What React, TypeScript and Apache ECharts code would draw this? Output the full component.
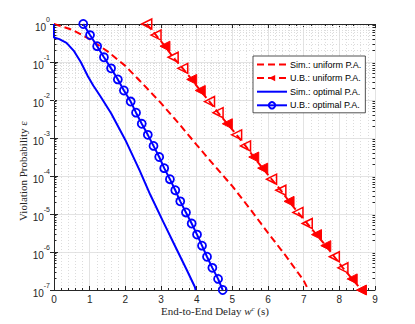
import React, { useEffect, useRef } from "react";
import * as echarts from "echarts";

// ---- data ----
const xTicks = [0, 1, 2, 3, 4, 5, 6, 7, 8, 9];
const yTickExponents = [0, -1, -2, -3, -4, -5, -6, -7];

// Sim.: uniform P.A. (red dashed)
const simUniformX = [0, 0.5, 1.0, 1.5, 2.0, 2.5, 3.0, 3.5, 4.0, 4.5, 5.0, 5.5, 6.0, 6.5, 7.0, 7.1];
const simUniformY = [1, 0.71, 0.4, 0.19, 0.079, 0.026, 8.3e-3, 2.4e-3, 6.6e-4, 1.86e-4, 5.4e-5, 1.35e-5, 3.2e-6, 7.9e-7, 1.78e-7, 1.15e-7];

// U.B. sampling levels of epsilon (shared by both U.B. curves)
const ubEps = [1, 0.511, 0.261, 0.133, 0.068, 0.0348, 0.0178, 9.09e-3, 4.64e-3, 2.37e-3, 1.21e-3, 6.19e-4, 3.16e-4, 1.61e-4, 8.25e-5, 4.22e-5, 2.15e-5, 1.1e-5, 5.62e-6, 2.87e-6, 1.47e-6, 7.5e-7, 3.83e-7, 1.96e-7, 1e-7];

// U.B.: uniform P.A. (red dashed with triangles)
const ubUniformX = [2.6, 2.86, 3.11, 3.34, 3.61, 3.86, 4.1, 4.36, 4.6, 4.86, 5.12, 5.37, 5.6, 5.85, 6.1, 6.36, 6.59, 6.84, 7.1, 7.36, 7.62, 7.86, 8.1, 8.36, 8.62];
const ubUniformFilled = [false, false, true, false, false, true, true, false, false, true, false, false, true, true, false, false, true, false, false, true, true, false, false, true, true];

// Sim.: optimal P.A. (blue solid)
const simOptimalX = [0, 0, 0.15, 0.35, 0.55, 0.75, 0.95, 1.1, 1.3, 1.6, 2.0, 2.4, 2.7, 3.06, 3.4, 3.72, 3.95, 3.97];
const simOptimalY = [1, 0.44, 0.4, 0.32, 0.2, 0.1, 0.042, 0.024, 0.0126, 4.5e-3, 8.9e-4, 1.4e-4, 3.2e-5, 6.3e-6, 1.4e-6, 3.4e-7, 1.2e-7, 1e-7];

// U.B.: optimal P.A. (blue with circles)
const ubOptimalX = [0.82, 1.01, 1.21, 1.4, 1.6, 1.79, 1.96, 2.15, 2.3, 2.46, 2.63, 2.79, 2.95, 3.09, 3.25, 3.4, 3.54, 3.7, 3.86, 4.01, 4.15, 4.29, 4.44, 4.6, 4.73];

const seriesNames = ["Sim.: uniform P.A.", "U.B.: uniform P.A.", "Sim.: optimal P.A.", "U.B.: optimal P.A."];

const RED = "#ff0000";
const BLUE = "#0000ff";
const AXIS = "#262626";
const CLEAR = "rgba(255,255,255,0)";

const minorYs: number[] = [];
for (let d = -7; d < 0; d++) {
  for (let m = 2; m <= 9; m++) minorYs.push(m * Math.pow(10, d));
}

const zip = (xs: number[], ys: number[]) => xs.map((x, i) => [x, ys[i]]);

export default function App() {
  const ref = useRef<HTMLDivElement>(null);
  useEffect(() => {
    if (!ref.current) return;
    const chart = echarts.init(ref.current, undefined, { renderer: "svg" });
    const sans = "Liberation Sans, Arial, sans-serif";
    const yLabelFmt = (v: number) => {
      const e = Math.round(Math.log10(v));
      return `{b|10}{e|${e}}`;
    };
    const xMin = xTicks[0];
    const xMax = xTicks[xTicks.length - 1];
    const tickFrac = 0.07; // minor tick length on the log axes, in x units
    const minorTickSegs: any[] = [];
    minorYs.forEach((v) => {
      minorTickSegs.push([{ coord: [xMin, v] }, { coord: [xMin + tickFrac, v] }]);
      minorTickSegs.push([{ coord: [xMax, v] }, { coord: [xMax - tickFrac, v] }]);
    });
    const option: any = {
      animation: false,
      backgroundColor: "#ffffff",
      grid: { left: 54, right: 40, top: 24, bottom: 34, containLabel: false },
      xAxis: [
        {
          type: "value",
          min: xMin,
          max: xMax,
          interval: 1,
          position: "bottom",
          axisLine: { show: true, lineStyle: { color: AXIS, width: 1 } },
          axisTick: { show: true, inside: true, length: 4, lineStyle: { color: AXIS } },
          minorTick: { show: true, splitNumber: 5, length: 2, lineStyle: { color: AXIS } },
          axisLabel: { color: AXIS, fontSize: 10, fontFamily: sans, margin: 4, lineHeight: 10 },
          splitLine: { show: true, lineStyle: { color: "#e3e3e3", width: 1 } },
          minorSplitLine: { show: true, lineStyle: { color: "#dcdcdc", width: 1, type: [1, 2] } },
        },
        {
          type: "value",
          min: xMin,
          max: xMax,
          interval: 1,
          position: "top",
          axisLine: { show: true, lineStyle: { color: AXIS, width: 1 } },
          axisTick: { show: true, inside: true, length: 4, lineStyle: { color: AXIS } },
          minorTick: { show: true, splitNumber: 5, length: 2, lineStyle: { color: AXIS } },
          axisLabel: { show: false },
          splitLine: { show: false },
        },
      ],
      yAxis: [
        {
          type: "log",
          logBase: 10,
          min: Math.pow(10, yTickExponents[yTickExponents.length - 1]),
          max: Math.pow(10, yTickExponents[0]),
          position: "left",
          axisLine: { show: true, lineStyle: { color: AXIS, width: 1 } },
          axisTick: { show: true, inside: true, length: 4, lineStyle: { color: AXIS } },
          axisLabel: {
            formatter: yLabelFmt,
            margin: 4,
            rich: {
              b: { fontSize: 10, fontFamily: sans, color: AXIS, lineHeight: 16, verticalAlign: "bottom" },
              e: { fontSize: 7, fontFamily: sans, color: AXIS, lineHeight: 8, verticalAlign: "top" },
            },
          },
          splitLine: { show: true, lineStyle: { color: "#e3e3e3", width: 1 } },
        },
        {
          type: "log",
          logBase: 10,
          min: Math.pow(10, yTickExponents[yTickExponents.length - 1]),
          max: Math.pow(10, yTickExponents[0]),
          position: "right",
          axisLine: { show: true, lineStyle: { color: AXIS, width: 1 } },
          axisTick: { show: true, inside: true, length: 4, lineStyle: { color: AXIS } },
          axisLabel: { show: false },
          splitLine: { show: false },
        },
      ],
      legend: {
        data: seriesNames,
        orient: "vertical",
        left: 253,
        top: 56,
        itemWidth: 30,
        itemHeight: 8,
        itemGap: 4.6,
        padding: [4, 4, 3, 3],
        backgroundColor: "#ffffff",
        borderColor: AXIS,
        borderWidth: 0.8,
        borderRadius: 0,
        textStyle: { fontSize: 9, fontFamily: sans, color: "#000", padding: [0, 0, 0, -2] },
      },
      graphic: [
        {
          type: "text",
          x: 23,
          y: 171,
          rotation: Math.PI / 2,
          style: {
            text: "Violation Probability ε",
            font: "11px Liberation Serif, serif",
            fill: AXIS,
            align: "center",
            verticalAlign: "middle",
          },
        },
        {
          type: "text",
          x: 215,
          y: 311,
          style: {
            text: "End-to-End Delay {i|w}{s|c} (s)",
            font: "11px Liberation Serif, serif",
            fill: AXIS,
            align: "center",
            verticalAlign: "middle",
            rich: {
              i: { font: "italic 11px Liberation Serif, serif", fill: AXIS },
              s: { font: "italic 7px Liberation Serif, serif", fill: AXIS, verticalAlign: "top", lineHeight: 8 },
            },
          },
        },
      ],
      series: [
        {
          name: "minor-grid",
          type: "line",
          data: [],
          silent: true,
          z: 1,
          markLine: {
            silent: true,
            symbol: "none",
            animation: false,
            z: 1,
            label: { show: false },
            lineStyle: { color: "#dcdcdc", width: 1, type: [1, 2] },
            data: minorYs.map((v) => ({ yAxis: v })),
          },
        },
        {
          name: "minor-ticks",
          type: "line",
          data: [],
          silent: true,
          z: 5,
          markLine: {
            silent: true,
            symbol: "none",
            animation: false,
            label: { show: false },
            lineStyle: { color: AXIS, width: 1, type: "solid" },
            data: minorTickSegs,
          },
        },
        {
          name: seriesNames[0],
          type: "line",
          data: zip(simUniformX, simUniformY),
          symbol: "none",
          showSymbol: false,
          lineStyle: { color: RED, width: 2, type: [7, 4] },
          itemStyle: { color: CLEAR, opacity: 0 },
          z: 3,
        },
        {
          name: seriesNames[1],
          type: "line",
          data: ubUniformX.map((x, i) => ({
            value: [x, ubEps[i]],
            itemStyle: ubUniformFilled[i]
              ? { color: RED, borderColor: RED, borderWidth: 1 }
              : { color: CLEAR, borderColor: RED, borderWidth: 1.5 },
          })),
          symbol: "triangle",
          symbolRotate: 90,
          symbolSize: 10,
          showSymbol: true,
          lineStyle: { color: RED, width: 2, type: [7, 4] },
          itemStyle: { color: RED, borderColor: RED },
          z: 3,
        },
        {
          name: seriesNames[2],
          type: "line",
          data: zip(simOptimalX, simOptimalY),
          symbol: "none",
          showSymbol: false,
          lineStyle: { color: BLUE, width: 2 },
          itemStyle: { color: CLEAR, opacity: 0 },
          z: 4,
        },
        {
          name: seriesNames[3],
          type: "line",
          data: zip(ubOptimalX, ubEps),
          symbol: "circle",
          symbolSize: 8,
          showSymbol: true,
          lineStyle: { color: BLUE, width: 2 },
          itemStyle: { color: CLEAR, borderColor: BLUE, borderWidth: 1.8 },
          z: 4,
        },
      ],
    };
    chart.setOption(option);
    return () => chart.dispose();
  }, []);
  return (
    <div
      ref={ref}
      style={{ position: "absolute", left: 0, top: 0, width: 415, height: 324 }}
    />
  );
}
